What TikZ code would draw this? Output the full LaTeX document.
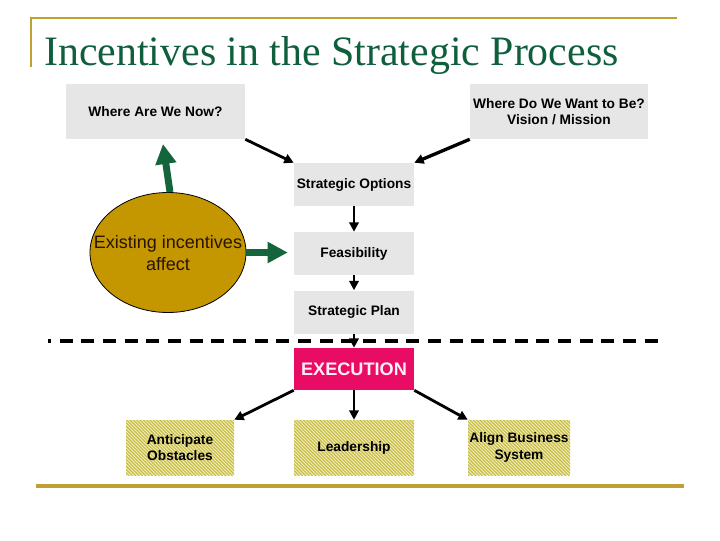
\documentclass[tikz,border=0pt]{standalone}
\usepackage{fontspec}
\setmainfont{Liberation Sans}
\newfontfamily\titlefont{Liberation Serif}
\usetikzlibrary{shapes.geometric,arrows.meta,patterns}

\definecolor{rulegold}{RGB}{192,160,48}
\definecolor{titlegreen}{RGB}{15,95,60}
\definecolor{boxgrey}{RGB}{230,230,230}
\definecolor{incgold}{RGB}{196,150,0}
\definecolor{arrowgreen}{RGB}{20,100,60}
\definecolor{execred}{RGB}{232,12,100}
\definecolor{hatchbg}{RGB}{242,238,185}
\definecolor{hatchline}{RGB}{200,188,70}

\pgfdeclarepatternformonly{diaghatch}{\pgfqpoint{-1pt}{-1pt}}{\pgfqpoint{3.5pt}{3.5pt}}{\pgfqpoint{2.5pt}{2.5pt}}{
  \pgfsetlinewidth{0.85pt}
  \pgfpathmoveto{\pgfqpoint{0pt}{2.5pt}}
  \pgfpathlineto{\pgfqpoint{2.6pt}{-0.1pt}}
  \pgfusepath{stroke}}

\begin{document}
\begin{tikzpicture}[x=0.75pt,y=0.75pt,yscale=-1,xscale=1,
  boxtext/.style={font=\fontsize{10.3}{12.5}\selectfont\bfseries, align=center, inner sep=0pt},
  greybox/.style={boxtext, fill=boxgrey, minimum width=90pt, minimum height=32.25pt},
  hatchbox/.style={boxtext, fill=hatchbg, postaction={pattern=diaghatch, pattern color=hatchline}, minimum height=41.25pt},
  blkarrow/.style={-{Triangle[length=7pt,width=7pt]}, line width=2.1pt},
  grnarrow/.style={-{Triangle[length=15pt,width=15pt]}, line width=5.2pt, draw=arrowgreen}]
\useasboundingbox (0,0) rectangle (720,540);
% Rules
\draw [color=rulegold, line width=2pt]  (31,67) -- (31,18) -- (677,18) ;
\draw [color=rulegold, line width=2.4pt]  (36,486) -- (684,486) ;
% Title
\node (title) [anchor=base west, inner sep=0pt, color=titlegreen, font=\titlefont\fontsize{31.4}{36}\selectfont] at (44,65) {Incentives in the Strategic Process};
% Top boxes
\node (now) [greybox, minimum width=134.25pt, minimum height=41.25pt] at (155.5,111.5) {Where Are We Now?};
\node (want) [greybox, minimum width=133.5pt, minimum height=41.25pt] at (559,111.5) {Where Do We Want to Be?\\Vision / Mission};
% Strategy column
\node (options) [greybox] at (354,184.5) {Strategic Options};
\node (feas) [greybox] at (354,253.5) {Feasibility};
\node (plan) [greybox] at (354,312) {Strategic Plan};
\node (exec) [boxtext, fill=execred, minimum width=90pt, minimum height=31.5pt, text={rgb,255:red,255;green,238;blue,246}, font=\fontsize{13.6}{16}\selectfont\bfseries] at (354,369) {EXECUTION};
% Execution boxes
\node (obst) [hatchbox, minimum width=81pt] at (180,447.5) {Anticipate\\Obstacles};
\node (lead) [hatchbox, minimum width=90pt] at (354,447.5) {Leadership};
\node (align) [hatchbox, minimum width=76.5pt] at (519,447.5) {Align Business\\System};
% Incentives ellipse
\node (inc) [ellipse, draw=black, line width=0.6pt, fill=incgold, minimum width=117pt, minimum height=90pt, inner sep=0pt] at (168,252.5) {};
\node (inctext) [align=center, inner sep=0pt, text={rgb,255:red,40;green,20;blue,0}, font=\fontsize{13.5}{16.5}\selectfont] at (168,253) {Existing incentives\\affect};
\coordinate (uptip) at (163,144);
% Divider
\draw [line width=2.6pt, dash pattern=on 9.75pt off 6.5pt, dash phase=7.5pt]  (48,341) -- (660,341) ;
% Connections
\draw [blkarrow] (now.south east) -- (options.north west) ;
\draw [blkarrow, line width=2.5pt] (want.south west) -- (options.north east) ;
\draw [blkarrow] (options) -- (feas) ;
\draw [blkarrow] (feas) -- (plan) ;
\draw [blkarrow] (plan) -- (exec) ;
\draw [blkarrow] (exec.south west) -- (obst.north east) ;
\draw [blkarrow] (exec) -- (lead) ;
\draw [blkarrow] (exec.south east) -- (align.north west) ;
% Green arrows
\draw [grnarrow] ([xshift=1.5pt]inc.north) -- (uptip) ;
\draw [grnarrow, shorten >=4.5pt] (inc.east) -- (feas.west |- inc.east) ;
\end{tikzpicture}
\end{document}
